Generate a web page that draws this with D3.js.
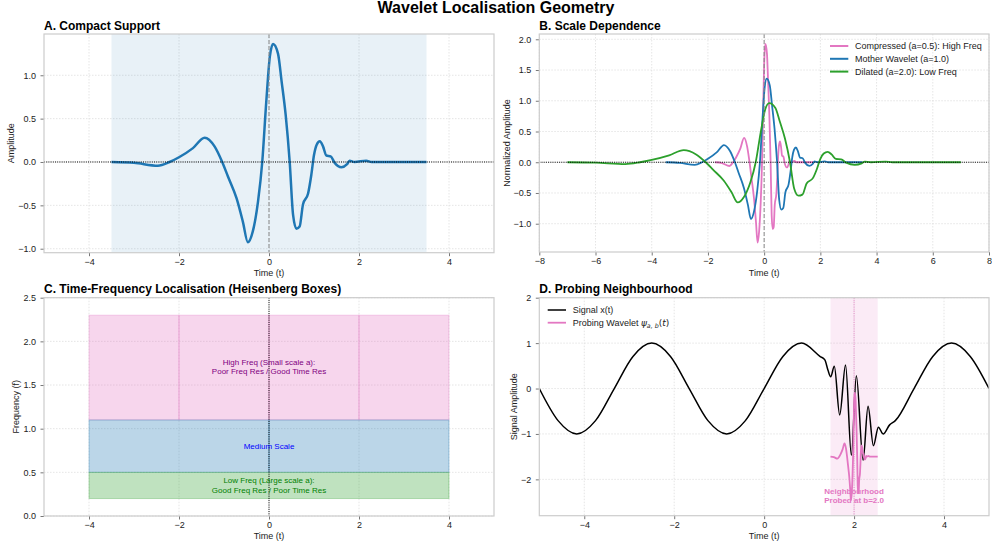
<!DOCTYPE html>
<html>
<head>
<meta charset="utf-8">
<script src="https://cdn.jsdelivr.net/npm/d3@7"></script>
<style>
body { margin: 0; background: #fff; }
</style>
</head>
<body>
<svg id="chart" width="992" height="548"></svg>
<script>
// mother wavelet psi(t) as [t, amplitude]
const motherWavelet = [
	[-3.5, 0], [-3.0, -0.01], [-2.47, -0.043], [-2.21, 0], [-2.0, 0.055], [-1.69, 0.16],
	[-1.43, 0.28], [-1.21, 0.18], [-1.04, 0], [-0.91, -0.17], [-0.72, -0.42], [-0.58, -0.69],
	[-0.47, -0.925], [-0.36, -0.80], [-0.245, -0.46], [-0.15, 0], [-0.06, 0.70], [0.02, 1.22],
	[0.09, 1.36], [0.2, 1.25], [0.28, 0.93], [0.37, 0.545], [0.46, 0], [0.535, -0.61],
	[0.61, -0.77], [0.68, -0.745], [0.755, -0.49], [0.87, -0.36], [0.94, -0.15], [1.0, 0.08],
	[1.06, 0.2], [1.13, 0.24], [1.2, 0.18], [1.275, 0.075], [1.37, 0.065], [1.46, -0.01],
	[1.61, -0.06], [1.735, -0.025], [1.79, 0.015], [1.9, 0], [2.16, 0.015], [2.28, 0], [3.5, 0]
];
const supportHalf = 3.5;

// panel B
const scaleFactors = [0.5, 1.0, 2.0];
const scaleNames = ["Compressed (a=0.5): High Freq", "Mother Wavelet (a=1.0)", "Dilated (a=2.0): Low Freq"];
const scaleColors = ["#e377c2", "#1f77b4", "#2ca02c"];

// panel C: Heisenberg boxes [freq low, freq high, box width in time]
const boxRows = [[1.1, 2.3, 2], [0.5, 1.1, 4], [0.2, 0.5, 8]];
const boxColors = ["#e377c2", "#1f77b4", "#2ca02c"];
const boxTime = [-4, 4];
const boxTexts = [
	["High Freq (Small scale a):", "Poor Freq Res / Good Time Res"],
	["Medium Scale"],
	["Low Freq (Large scale a):", "Good Freq Res / Poor Time Res"]
];
const boxTextY = [1.71, 0.8, 0.355];
const boxTextColors = ["purple", "blue", "green"];

// panel D: signal x(t) read as [t, value]
const signalPoints = [
	[-5, 0], [-4.583, -0.707], [-4.167, -1], [-3.75, -0.707], [-3.333, 0], [-2.917, 0.707],
	[-2.5, 1], [-2.083, 0.707], [-1.667, 0], [-1.25, -0.707], [-0.833, -1], [-0.417, -0.707],
	[0, 0], [0.417, 0.707], [0.833, 1], [1.24, 0.71], [1.35, 0.63], [1.42, 0.40], [1.48, 0.26],
	[1.56, 0.49], [1.68, -0.58], [1.81, 0.52], [1.94, -1.47], [2.05, 0.28], [2.2, -1.58],
	[2.31, -0.39], [2.43, -1.26], [2.54, -0.85], [2.645, -1.0], [2.79, -0.8], [2.917, -0.707],
	[3.333, 0], [3.75, 0.707], [4.167, 1], [4.583, 0.707], [5, 0]
];
const probeB = 2.0, probeA = 0.15, probeOffset = -1.5, probeGain = 1.04;

const FONT = "'Liberation Sans', Arial, Helvetica, sans-serif";
const svg = d3.select("#chart").attr("font-family", FONT);

svg.append("text").attr("x", 496).attr("y", 13).attr("text-anchor", "middle")
	.attr("font-size", 16).attr("font-weight", "bold").attr("fill", "#000")
	.text("Wavelet Localisation Geometry");

let clipId = 0;
function makePanel(b) {
	const g = svg.append("g").attr("transform", "translate(" + b.x + "," + b.y + ")");
	const x = d3.scaleLinear().domain(b.xd).range([0, b.w]);
	const y = d3.scaleLinear().domain(b.yd).range([b.h, 0]);
	const id = "clip" + (clipId++);
	g.append("clipPath").attr("id", id).append("rect").attr("width", b.w).attr("height", b.h);

	const grid = g.append("g").attr("stroke", "#dedede").attr("stroke-width", 0.8).attr("stroke-dasharray", "1.5,1.5");
	grid.selectAll(".gx").data(b.xt).enter().append("line")
		.attr("x1", d => x(d)).attr("x2", d => x(d)).attr("y1", 0).attr("y2", b.h);
	grid.selectAll(".gy").data(b.yt).enter().append("line")
		.attr("y1", d => y(d)).attr("y2", d => y(d)).attr("x1", 0).attr("x2", b.w);

	const content = g.append("g").attr("clip-path", "url(#" + id + ")");

	const xa = g.append("g").attr("transform", "translate(0," + b.h + ")")
		.call(d3.axisBottom(x).tickValues(b.xt).tickFormat(b.xf).tickSize(3.5).tickPadding(2.2));
	const ya = g.append("g")
		.call(d3.axisLeft(y).tickValues(b.yt).tickFormat(b.yf).tickSize(3.5).tickPadding(4.5));
	[xa, ya].forEach(a => {
		a.attr("font-family", FONT).attr("font-size", 9);
		a.select(".domain").remove();
		a.selectAll("line").attr("stroke", "#555").attr("stroke-width", 0.8);
		a.selectAll("text").attr("fill", "#222");
	});
	g.append("rect").attr("width", b.w).attr("height", b.h)
		.attr("fill", "none").attr("stroke", "#cccccc").attr("stroke-width", 1.2);

	g.append("text").attr("x", 0).attr("y", -4.5).attr("font-size", 12).attr("font-weight", "bold")
		.attr("fill", "#000").text(b.title);
	g.append("text").attr("x", b.w / 2).attr("y", b.h + 23.5).attr("text-anchor", "middle")
		.attr("font-size", 9).attr("fill", "#222").text(b.xlabel);
	g.append("text").attr("transform", "translate(" + (-b.yl) + "," + (b.h / 2) + ") rotate(-90)")
		.attr("text-anchor", "middle").attr("font-size", 9).attr("fill", "#222").text(b.ylabel);
	return { g: g, content: content, x: x, y: y, b: b };
}

const f1 = d3.format(".1f"), fd = d3.format("d");

function curve(p) {
	return d3.line().x(d => p.x(d[0])).y(d => p.y(d[1])).curve(d3.curveMonotoneX);
}
function hline(p, v, color, dash, w) {
	p.content.append("line").attr("x1", 0).attr("x2", p.b.w).attr("y1", p.y(v)).attr("y2", p.y(v))
		.attr("stroke", color).attr("stroke-dasharray", dash).attr("stroke-width", w);
}
function vline(p, v, color, dash, w) {
	p.content.append("line").attr("y1", 0).attr("y2", p.b.h).attr("x1", p.x(v)).attr("x2", p.x(v))
		.attr("stroke", color).attr("stroke-dasharray", dash).attr("stroke-width", w);
}

// ---------- A ----------
const pA = makePanel({
	x: 44, y: 34, w: 450, h: 218.7, xd: [-5, 5], yd: [-1.046, 1.476],
	xt: [-4, -2, 0, 2, 4], yt: [-1, -0.5, 0, 0.5, 1], xf: fd, yf: f1, yl: 30,
	title: "A. Compact Support", xlabel: "Time (t)", ylabel: "Amplitude"
});
pA.content.insert("rect", ":first-child").attr("x", pA.x(-supportHalf)).attr("width", pA.x(supportHalf) - pA.x(-supportHalf))
	.attr("y", 0).attr("height", pA.b.h).attr("fill", "#1f77b4").attr("fill-opacity", 0.1);
pA.content.append("path").datum(motherWavelet).attr("d", curve(pA))
	.attr("fill", "none").attr("stroke", "#1f77b4").attr("stroke-width", 2.5);
vline(pA, 0, "#888", "4,2", 1);
hline(pA, 0, "#000", "1,1.2", 1);

// ---------- B ----------
const pB = makePanel({
	x: 539.3, y: 34, w: 449.7, h: 218, xd: [-8, 8], yd: [-1.46, 2.086],
	xt: [-8, -6, -4, -2, 0, 2, 4, 6, 8], yt: [-1, -0.5, 0, 0.5, 1, 1.5, 2], xf: fd, yf: f1, yl: 29.5,
	title: "B. Scale Dependence", xlabel: "Time (t)", ylabel: "Normalized Amplitude"
});
scaleFactors.forEach((a, i) => {
	const s = motherWavelet.map(d => [a * d[0], d[1] / Math.sqrt(a)]);
	pB.content.append("path").datum(s).attr("d", curve(pB))
		.attr("fill", "none").attr("stroke", scaleColors[i]).attr("stroke-width", 1.8);
});
vline(pB, 0, "#888", "4,2", 1);
hline(pB, 0, "#000", "1,1.2", 1);
const legB = pB.g.append("g").attr("transform", "translate(" + (830 - pB.b.x) + "," + (46 - pB.b.y) + ")");
scaleNames.forEach((n, i) => {
	legB.append("line").attr("x1", 0).attr("x2", 18.3).attr("y1", i * 12.8).attr("y2", i * 12.8)
		.attr("stroke", scaleColors[i]).attr("stroke-width", 2);
	legB.append("text").attr("x", 25).attr("y", i * 12.8 + 3.2).attr("font-size", 9).attr("fill", "#222").text(n);
});

// ---------- C ----------
const pC = makePanel({
	x: 44, y: 297.7, w: 450, h: 218.3, xd: [-5, 5], yd: [0, 2.5],
	xt: [-4, -2, 0, 2, 4], yt: [0, 0.5, 1, 1.5, 2, 2.5], xf: fd, yf: f1, yl: 25.3,
	title: "C. Time-Frequency Localisation (Heisenberg Boxes)", xlabel: "Time (t)", ylabel: "Frequency (f)"
});
boxRows.forEach((r, i) => {
	const starts = d3.range(boxTime[0], boxTime[1], r[2]);
	pC.content.selectAll(".box" + i).data(starts).enter().append("rect")
		.attr("x", d => pC.x(d)).attr("width", d => pC.x(d + r[2]) - pC.x(d))
		.attr("y", pC.y(r[1])).attr("height", pC.y(r[0]) - pC.y(r[1]))
		.attr("fill", boxColors[i]).attr("fill-opacity", 0.3)
		.attr("stroke", boxColors[i]).attr("stroke-opacity", 0.3).attr("stroke-width", 1);
});
vline(pC, 0, "#000", "1,1.2", 1);
boxTexts.forEach((lines, i) => {
	const cy = pC.y(boxTextY[i]);
	lines.forEach((t, j) => {
		pC.content.append("text").attr("x", pC.x(0)).attr("y", cy + (j - (lines.length - 1) / 2) * 9.3 + 2.9)
			.attr("text-anchor", "middle").attr("font-size", 8).attr("fill", boxTextColors[i]).text(t);
	});
});

// ---------- D ----------
const pD = makePanel({
	x: 539.3, y: 297.7, w: 449.7, h: 218, xd: [-5, 5], yd: [-2.8, 2.0],
	xt: [-4, -2, 0, 2, 4], yt: [-2, -1, 0, 1, 2], xf: fd, yf: fd, yl: 22,
	title: "D. Probing Neighbourhood", xlabel: "Time (t)", ylabel: "Signal Amplitude"
});
pD.content.append("rect").attr("x", pD.x(probeB - supportHalf * probeA))
	.attr("width", pD.x(probeB + supportHalf * probeA) - pD.x(probeB - supportHalf * probeA))
	.attr("y", 0).attr("height", pD.b.h).attr("fill", "#e377c2").attr("fill-opacity", 0.15);
pD.content.append("path").datum(signalPoints).attr("d", curve(pD))
	.attr("fill", "none").attr("stroke", "#000").attr("stroke-width", 1.5);
const probe = motherWavelet.map(d => [probeB + probeA * d[0], probeOffset + probeGain * d[1]]);
pD.content.append("path").datum(probe).attr("d", curve(pD))
	.attr("fill", "none").attr("stroke", "#e377c2").attr("stroke-width", 1.8);
vline(pD, probeB, "#e377c2", "1,1.2", 0.8);
["Neighbourhood", "Probed at b=" + probeB.toFixed(1)].forEach((t, j) => {
	pD.content.append("text").attr("x", pD.x(probeB)).attr("y", 494.5 - pD.b.y + j * 8.2)
		.attr("text-anchor", "middle").attr("font-size", 8).attr("font-weight", "bold")
		.attr("fill", "#e377c2").text(t);
});
const legD = pD.g.append("g").attr("transform", "translate(" + (547.7 - pD.b.x) + "," + (310 - pD.b.y) + ")");
legD.append("line").attr("x1", 0).attr("x2", 18.3).attr("y1", 0).attr("y2", 0).attr("stroke", "#000").attr("stroke-width", 1.5);
legD.append("text").attr("x", 25).attr("y", 3.2).attr("font-size", 9).attr("fill", "#222").text("Signal x(t)");
legD.append("line").attr("x1", 0).attr("x2", 18.3).attr("y1", 12.7).attr("y2", 12.7).attr("stroke", "#e377c2").attr("stroke-width", 1.8);
const lt = legD.append("text").attr("x", 25).attr("y", 15.9).attr("font-size", 9).attr("fill", "#222");
lt.append("tspan").text("Probing Wavelet ");
lt.append("tspan").attr("font-family", "'DejaVu Sans'").attr("font-style", "italic").text("ψ");
lt.append("tspan").attr("font-family", "'DejaVu Sans'").attr("font-style", "italic").attr("font-size", 6.3).attr("dy", 1.8).text("a, b");
lt.append("tspan").attr("font-family", "'DejaVu Sans'").attr("dy", -1.8).text("(");
lt.append("tspan").attr("font-family", "'DejaVu Sans'").attr("font-style", "italic").text("t");
lt.append("tspan").attr("font-family", "'DejaVu Sans'").text(")");
</script>
</body>
</html>
